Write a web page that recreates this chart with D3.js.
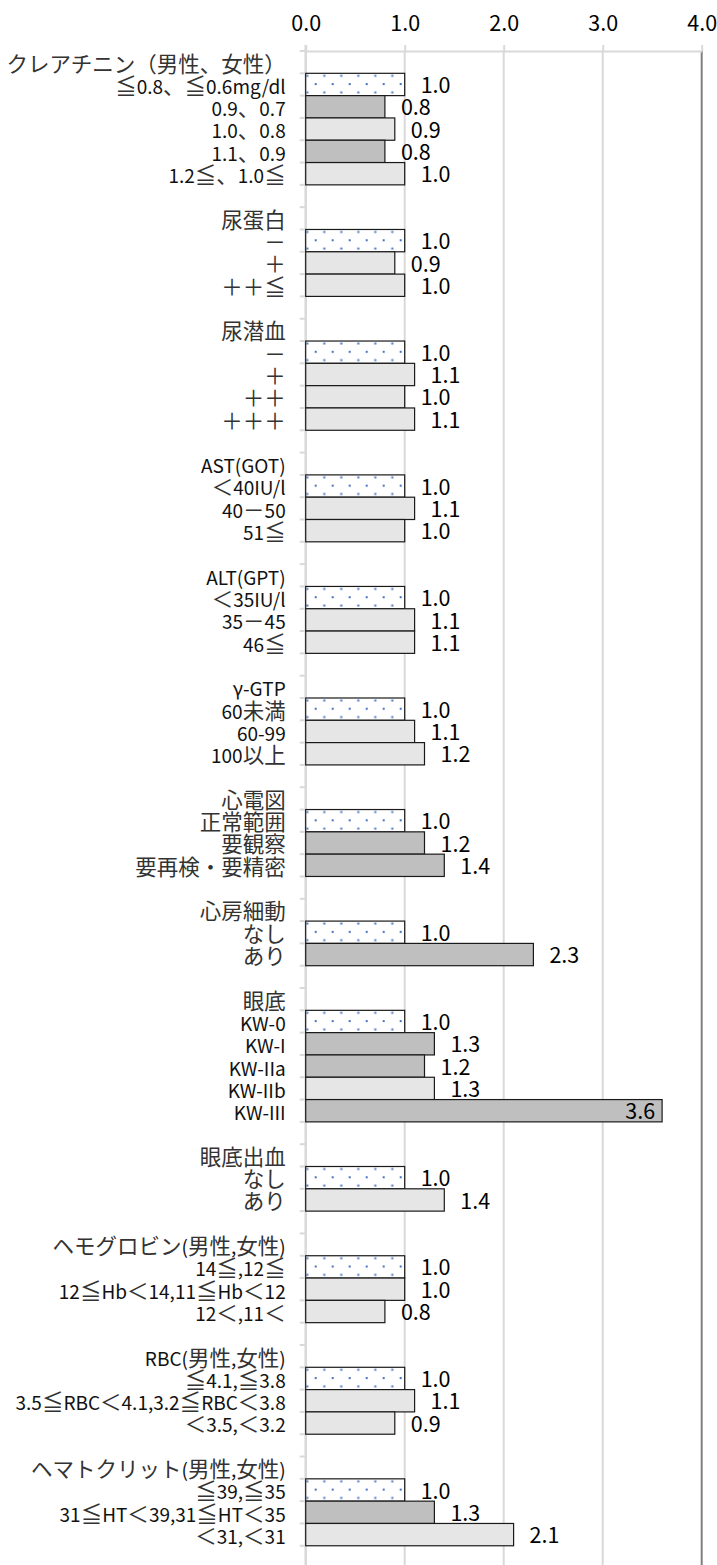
<!DOCTYPE html>
<html>
<head>
<meta charset="utf-8">
<script src="https://d3js.org/d3.v7.min.js"></script>
<style>
  body { margin: 0; background: #fff; }
  text { font-family: "Noto Sans CJK JP", sans-serif; }
</style>
</head>
<body>
<script>
// group titles (one header row above each block)
var groupNames = [
  "クレアチニン（男性、女性）", "尿蛋白", "尿潜血", "AST(GOT)", "ALT(GPT)",
  "γ-GTP", "心電図", "心房細動", "眼底", "眼底出血",
  "ヘモグロビン(男性,女性)", "RBC(男性,女性)", "ヘマトクリット(男性,女性)"
];

// categories inside every group
var groupItems = [
  ["≦0.8、≦0.6mg/dl", "0.9、0.7", "1.0、0.8", "1.1、0.9", "1.2≦、1.0≦"],
  ["－", "＋", "＋＋≦"],
  ["－", "＋", "＋＋", "＋＋＋"],
  ["＜40IU/l", "40－50", "51≦"],
  ["＜35IU/l", "35－45", "46≦"],
  ["60未満", "60-99", "100以上"],
  ["正常範囲", "要観察", "要再検・要精密"],
  ["なし", "あり"],
  ["KW-0", "KW-I", "KW-IIa", "KW-IIb", "KW-III"],
  ["なし", "あり"],
  ["14≦,12≦", "12≦Hb＜14,11≦Hb＜12", "12＜,11＜"],
  ["≦4.1,≦3.8", "3.5≦RBC＜4.1,3.2≦RBC＜3.8", "＜3.5,＜3.2"],
  ["≦39,≦35", "31≦HT＜39,31≦HT＜35", "＜31,＜31"]
];

// ratio for every category
var groupValues = [
  [1.0, 0.8, 0.9, 0.8, 1.0],
  [1.0, 0.9, 1.0],
  [1.0, 1.1, 1.0, 1.1],
  [1.0, 1.1, 1.0],
  [1.0, 1.1, 1.1],
  [1.0, 1.1, 1.2],
  [1.0, 1.2, 1.4],
  [1.0, 2.3],
  [1.0, 1.3, 1.2, 1.3, 3.6],
  [1.0, 1.4],
  [1.0, 1.0, 0.8],
  [1.0, 1.1, 0.9],
  [1.0, 1.3, 2.1]
];

// "ref" = reference category, "sig" = darker bar, "ns" = lighter bar
var groupKind = [
  ["ref", "sig", "ns", "sig", "ns"],
  ["ref", "ns", "ns"],
  ["ref", "ns", "ns", "ns"],
  ["ref", "ns", "ns"],
  ["ref", "ns", "ns"],
  ["ref", "ns", "ns"],
  ["ref", "sig", "sig"],
  ["ref", "sig"],
  ["ref", "sig", "sig", "ns", "sig"],
  ["ref", "ns"],
  ["ref", "ns", "ns"],
  ["ref", "ns", "ns"],
  ["ref", "sig", "ns"]
];

var xTicks = [0, 1, 2, 3, 4];

// flatten groups into rows: header, items, blank
var rows = [];
groupNames.forEach(function(name, g) {
  rows.push({label: name, value: null});
  groupItems[g].forEach(function(item, i) {
    rows.push({label: item, value: groupValues[g][i], kind: groupKind[g][i]});
  });
  rows.push({label: "", value: null});
});

var width = 717, height = 1565;
var plotTop = 51, rowH = 22.31;

var svg = d3.select("body")
            .append("svg")
            .attr("width", width)
            .attr("height", height);

var x = d3.scaleLinear().domain([0, 4]).range([305.7, 701.7]);
var y = d3.scaleBand()
          .domain(d3.range(rows.length))
          .range([plotTop, plotTop + rows.length * rowH])
          .padding(0);
var plotBottom = y.range()[1];

// vertical gridlines
svg.append("g")
   .selectAll("line")
   .data(xTicks.slice(1))
   .enter().append("line")
   .attr("x1", function(d) { return x(d); })
   .attr("x2", function(d) { return x(d); })
   .attr("y1", plotTop)
   .attr("y2", plotBottom)
   .style("stroke", function(d) { return d == 4 ? "#7f7f7f" : "#d9d9d9"; })
   .style("stroke-width", 2);

// value axis on top
var xAxis = svg.append("g")
   .attr("transform", "translate(0," + plotTop + ")")
   .call(d3.axisTop(x).tickValues(xTicks).tickFormat(d3.format(".1f"))
           .tickSize(6).tickSizeOuter(0).tickPadding(14));
xAxis.select(".domain").style("stroke", "#d9d9d9").style("stroke-width", 2);
xAxis.selectAll(".tick line").style("stroke", "#d9d9d9").style("stroke-width", 2);
xAxis.selectAll("text")
     .attr("font-size", 21.5)
     .attr("font-family", "Noto Sans CJK JP")
     .style("fill", "#000");

// category axis line + ticks at row borders
svg.append("line")
   .attr("x1", x(0)).attr("x2", x(0))
   .attr("y1", plotTop - 6).attr("y2", plotBottom)
   .style("stroke", "#d9d9d9")
   .style("stroke-width", 2.5);

svg.append("g")
   .selectAll("line")
   .data(d3.range(rows.length + 1))
   .enter().append("line")
   .attr("x1", x(0) - 6).attr("x2", x(0))
   .attr("y1", function(i) { return plotTop + i * y.step(); })
   .attr("y2", function(i) { return plotTop + i * y.step(); })
   .style("stroke", "#d9d9d9")
   .style("stroke-width", 2);

// dotted fill for reference bars
var defs = svg.append("defs");
var barRows = rows.map(function(d, i) { d.i = i; return d; })
                  .filter(function(d) { return d.value != null; });

barRows.filter(function(d) { return d.kind == "ref"; }).forEach(function(d) {
  var p = defs.append("pattern")
      .attr("id", "dots" + d.i)
      .attr("patternUnits", "userSpaceOnUse")
      .attr("x", x(0))
      .attr("y", y(d.i))
      .attr("width", 17)
      .attr("height", 16.6);
  p.append("rect").attr("width", 17).attr("height", 16.6).attr("fill", "#fff");
  p.append("rect").attr("x", 0.6).attr("y", 1.5).attr("width", 2).attr("height", 2).attr("fill", "#4472c4");
  p.append("rect").attr("x", 9).attr("y", 9.8).attr("width", 2).attr("height", 2).attr("fill", "#4472c4");
});

var kindFill = {sig: "#bfbfbf", ns: "#e6e6e6"};

svg.append("g")
   .selectAll("rect")
   .data(barRows)
   .enter().append("rect")
   .attr("x", x(0))
   .attr("y", function(d) { return y(d.i); })
   .attr("width", function(d) { return x(d.value) - x(0); })
   .attr("height", y.bandwidth())
   .style("fill", function(d) {
     return d.kind == "ref" ? "url(#dots" + d.i + ")" : kindFill[d.kind];
   })
   .style("stroke", "#1a1a1a")
   .style("stroke-width", 1.2);

// split a label into japanese / latin runs (excel draws them in two fonts)
var wide = /[\u2266\u2267\u3000-\u30ff\u4e00-\u9fff\uff00-\uffef]/;
function splitRuns(s) {
  var runs = [];
  for (var k = 0; k < s.length; k++) {
    var w = wide.test(s[k]);
    if (runs.length && runs[runs.length - 1].wide == w) runs[runs.length - 1].t += s[k];
    else runs.push({t: s[k], wide: w});
  }
  return runs;
}

// category labels
var catText = svg.append("g")
   .selectAll("text")
   .data(rows)
   .enter().append("text")
   .attr("x", x(0) - 20)
   .attr("y", function(d, i) { return y(i) + y.bandwidth() / 2; })
   .attr("dy", "0.47em")
   .attr("text-anchor", "end")
   .attr("font-size", 20);

catText.selectAll("tspan")
   .data(function(d) { return splitRuns(d.label); })
   .enter().append("tspan")
   .attr("font-size", function(r) { return r.wide ? 21.5 : 19; })
   .style("fill", function(r) { return r.wide ? "#333" : "#111"; })
   .text(function(r) { return r.t; });

// value labels, moved inside the bar when they would leave the plot
var fmt = d3.format(".1f");
svg.append("g")
   .selectAll("text")
   .data(barRows)
   .enter().append("text")
   .attr("x", function(d) {
     var end = x(d.value);
     return end + 46 > x.range()[1] ? end - 7 : end + 16;
   })
   .attr("text-anchor", function(d) {
     return x(d.value) + 46 > x.range()[1] ? "end" : "start";
   })
   .attr("y", function(d) { return y(d.i) + y.bandwidth() / 2; })
   .attr("dy", "0.4em")
   .attr("font-size", 21.5)
   .style("fill", "#000")
   .text(function(d) { return fmt(d.value); });
</script>
</body>
</html>
